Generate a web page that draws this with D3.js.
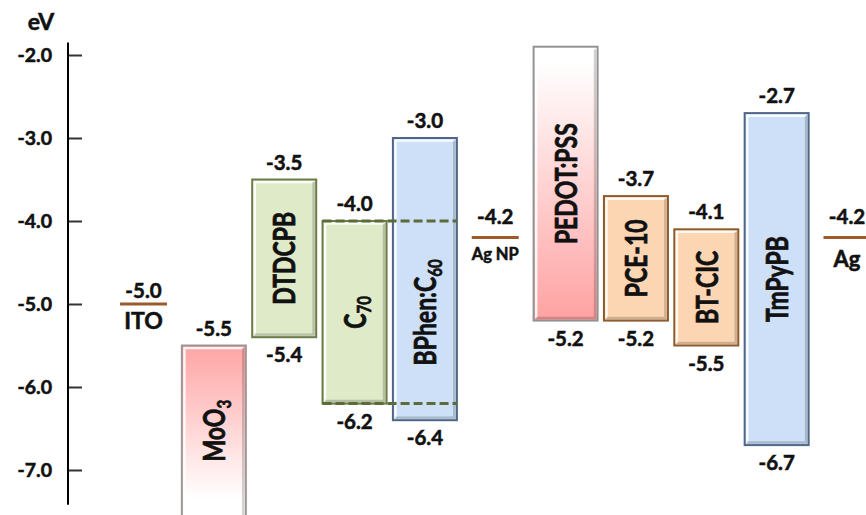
<!DOCTYPE html>
<html>
<head>
<meta charset="utf-8">
<script src="https://cdn.jsdelivr.net/npm/d3@7"></script>
<style>
  body { margin: 0; background: #fff; }
  svg { display: block; }
</style>
</head>
<body>
<svg id="chart" width="866" height="515"></svg>
<script>
// Energy-level diagram of the tandem device stack (values in eV)
const layers  = ["ITO", "MoO3", "DTDCPB", "C70", "BPhen:C60", "Ag NP", "PEDOT:PSS", "PCE-10", "BT-CIC", "TmPyPB", "Ag"];
const kinds   = ["line", "bar", "bar", "bar", "bar", "line", "bar", "bar", "bar", "bar", "line"];
// upper edge (LUMO / work function) and lower edge (HOMO) of each layer
const upper   = [-5.0, -5.5, -3.5, -4.0, -3.0, -4.2, -1.9, -3.7, -4.1, -2.7, -4.2];
const lower   = [null, -7.6, -5.4, -6.2, -6.4, null, -5.2, -5.2, -5.5, -6.7, null];
// which edges carry a printed value
const upperShown = [true, true, true, true, true, true, false, true, true, true, true];
const lowerShown = [false, false, true, true, true, false, true, true, true, true, false];
// C60 levels of the blend, drawn dashed across C70 and BPhen:C60
const blendLevels = [-4.0, -6.2];
const blendSpan = ["C70", "BPhen:C60"];
// axis
const yTicks = [-2.0, -3.0, -4.0, -5.0, -6.0, -7.0];
const axisExtent = [-1.85, -7.42];
const unitLabel = "eV";

const rows = layers.map((name, i) => ({
  name, kind: kinds[i], top: upper[i], bottom: lower[i],
  topShown: upperShown[i], bottomShown: lowerShown[i]
}));

const FONT = "Lato, 'Open Sans', sans-serif";
const INK = "#111";
const fmt = d3.formatLocale({decimal: ".", thousands: ",", grouping: [3], currency: ["", ""], minus: "-"}).format(".1f");

const green = {fill: "#dfeac8", stroke: "#6b7a48"};
const blue  = {fill: "#cde0f7", stroke: "#4f6687"};
const peach = {fill: "#fcd6b3", stroke: "#8c5c30"};
const palette = {
  "MoO3":      {fill: "url(#fadeDown)", stroke: "#a09494"},
  "DTDCPB":    green,
  "C70":       green,
  "BPhen:C60": blue,
  "PEDOT:PSS": {fill: "url(#fadeUp)", stroke: "#939393"},
  "PCE-10":    peach,
  "BT-CIC":    peach,
  "TmPyPB":    blue
};
const levelColor = "#9b5b2c";
const dashColor = "#5b6b39";

// names with subscripts
const richNames = {
  "MoO3":      [["MoO", false], ["3", true]],
  "C70":       [["C", false], ["70", true]],
  "BPhen:C60": [["BPhen:C", false], ["60", true]]
};

const svg = d3.select("#chart");

const x = d3.scalePoint().domain(layers).range([143.5, 847]);
const y = d3.scaleLinear().domain([-2, -7]).range([55, 470]);
const barW = 64, lineW = 47;

// bold text with a thin outline in the same ink to give it more weight
const heavy = sel => sel
  .attr("font-family", FONT).attr("font-weight", 700).attr("fill", INK)
  .attr("stroke", INK).attr("stroke-width", 0.55).attr("paint-order", "stroke");

// gradients for the PEDOT:PSS / MoO3 bars
const defs = svg.append("defs");
const fadeDown = defs.append("linearGradient").attr("id", "fadeDown").attr("x1", 0).attr("y1", 0).attr("x2", 0).attr("y2", 1);
fadeDown.append("stop").attr("offset", 0).attr("stop-color", "#ffa4a4");
fadeDown.append("stop").attr("offset", 0.88).attr("stop-color", "#ffffff");
const fadeUp = defs.append("linearGradient").attr("id", "fadeUp").attr("x1", 0).attr("y1", 0).attr("x2", 0).attr("y2", 1);
fadeUp.append("stop").attr("offset", 0.05).attr("stop-color", "#ffffff");
fadeUp.append("stop").attr("offset", 1).attr("stop-color", "#ffa2a2");

// ---- axis ----
const axis = d3.axisLeft(y)
  .tickValues(yTicks)
  .tickFormat(fmt)
  .tickSizeInner(-14)
  .tickSizeOuter(0)
  .tickPadding(16);
const gAxis = svg.append("g").attr("transform", "translate(68,0)").call(axis);
gAxis.select(".domain").remove();
gAxis.selectAll(".tick line").attr("stroke", "#333").attr("stroke-width", 2);
gAxis.selectAll(".tick text").call(heavy).attr("font-size", 19.5);
gAxis.append("line")
  .attr("y1", y(axisExtent[0])).attr("y2", y(axisExtent[1]))
  .attr("stroke", "#000").attr("stroke-width", 2);
svg.append("text")
  .attr("x", 41).attr("y", 30).attr("text-anchor", "middle")
  .call(heavy).attr("font-size", 23)
  .text(unitLabel);

// ---- bars ----
const bars = rows.filter(d => d.kind === "bar");
const gBars = svg.append("g");
const inset = 2.6;
bars.forEach(d => {
  const x0 = x(d.name) - barW / 2, x1 = x(d.name) + barW / 2;
  const yt = y(d.top), yb = y(d.bottom);
  const p = palette[d.name];
  const g = gBars.append("g");
  g.append("rect")
    .attr("x", x0).attr("y", yt).attr("width", barW).attr("height", yb - yt)
    .attr("fill", p.fill).attr("stroke", p.stroke).attr("stroke-width", 2);
  // bevel: light along top/left, shade along right/bottom
  g.append("path")
    .attr("d", `M${x0 + inset},${yb - inset}V${yt + inset}H${x1 - inset}`)
    .attr("fill", "none").attr("stroke", "#fff").attr("stroke-opacity", 0.85).attr("stroke-width", 2.4);
  g.append("path")
    .attr("d", `M${x1 - inset},${yt + inset}V${yb - inset}H${x0 + inset}`)
    .attr("fill", "none").attr("stroke", "#000").attr("stroke-opacity", 0.18).attr("stroke-width", 2.4);
});

// ---- dashed C60 levels across the blend ----
const dx0 = x(blendSpan[0]) - barW / 2, dx1 = x(blendSpan[1]) + barW / 2;
svg.append("g").selectAll("line").data(blendLevels).join("line")
  .attr("x1", dx0).attr("x2", dx1)
  .attr("y1", d => y(d)).attr("y2", d => y(d))
  .attr("stroke", dashColor).attr("stroke-width", 3).attr("stroke-dasharray", "9,4");

// ---- electrode levels ----
const levels = rows.filter(d => d.kind === "line");
svg.append("g").selectAll("line").data(levels).join("line")
  .attr("x1", d => x(d.name) - lineW / 2).attr("x2", d => x(d.name) + lineW / 2)
  .attr("y1", d => y(d.top)).attr("y2", d => y(d.top))
  .attr("stroke", levelColor).attr("stroke-width", 3);

// ---- value labels ----
const gLabels = svg.append("g").attr("text-anchor", "middle").call(heavy);
const valueSize = 20.5;
rows.forEach(d => {
  if (d.topShown) {
    const gap = d.kind === "line" ? (d.name === "ITO" ? 6 : 14) : 10;
    gLabels.append("text")
      .attr("x", x(d.name)).attr("y", y(d.top) - gap)
      .attr("font-size", valueSize).text(fmt(d.top));
  }
  if (d.bottomShown) {
    gLabels.append("text")
      .attr("x", x(d.name)).attr("y", y(d.bottom) + 25)
      .attr("font-size", valueSize).text(fmt(d.bottom));
  }
});

// electrode names under their levels
const electrodeName = {"ITO": {size: 23, gap: 25}, "Ag NP": {size: 16.5, gap: 22}, "Ag": {size: 22, gap: 29}};
levels.forEach(d => {
  const s = electrodeName[d.name];
  gLabels.append("text")
    .attr("x", x(d.name)).attr("y", y(d.top) + s.gap)
    .attr("font-size", s.size).text(d.name);
});

// ---- rotated layer names inside bars ----
const nameSize = 23;
const gNames = svg.append("g").call(heavy);
bars.forEach(d => {
  const yMid = d.name === "BPhen:C60"
    ? (y(blendLevels[0]) + y(blendLevels[1])) / 2
    : d.name === "MoO3"
      ? (y(d.top) + y(d.bottom)) / 2 - 2
      : (y(d.top) + y(d.bottom)) / 2;
  const t = gNames.append("text")
    .attr("transform", `translate(${x(d.name)},${yMid}) scale(1.3,1) rotate(-90)`)
    .attr("text-anchor", "middle").attr("dominant-baseline", "central")
    .attr("font-size", nameSize);
  const parts = richNames[d.name] || [[d.name, false]];
  parts.forEach(([s, sub]) => {
    const ts = t.append("tspan").text(s);
    if (sub) ts.attr("font-size", nameSize * 0.66).attr("dy", "0.45em");
  });
});
</script>
</body>
</html>
